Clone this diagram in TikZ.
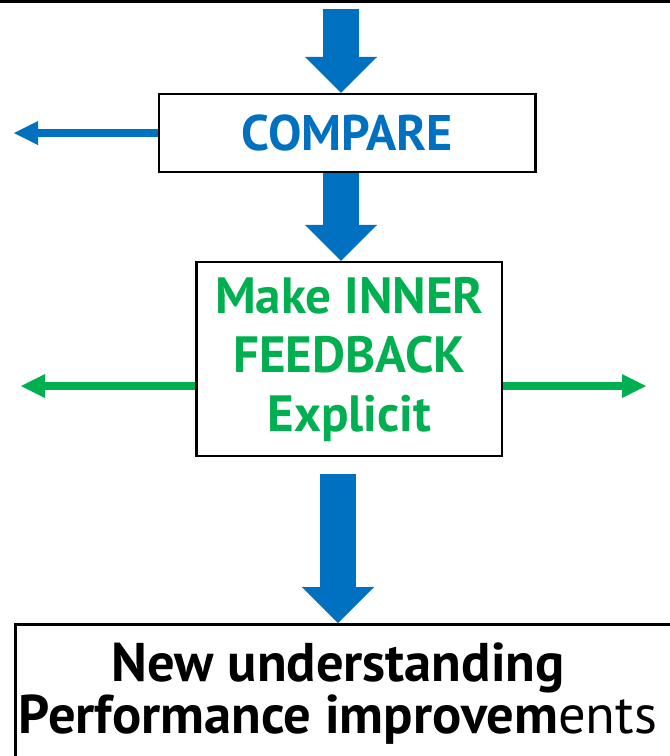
\documentclass[tikz,border=0pt]{standalone}
\usepackage{fontspec}
\newfontfamily\diagfont{PT Sans}
\usetikzlibrary{arrows.meta}
\definecolor{flowblue}{HTML}{0070C0}
\definecolor{flowgreen}{HTML}{00B050}
\tikzset{
  frame/.style={draw=black, line width=2.5pt, fill=white, inner sep=0pt, align=center},
  bigflow/.style={flowblue, line width=35.5pt,
    -{Triangle[width=72.5pt,length=36pt,line width=0pt]}},
  thinflow/.style={line width=8pt,
    -{Triangle[width=24pt,length=24pt,line width=0pt]}},
  comparefont/.style={font=\diagfont\bfseries\fontsize{50}{60}\selectfont},
  innerfont/.style={font=\diagfont\bfseries\fontsize{51}{59}\selectfont},
  resultfont/.style={font=\diagfont\bfseries\fontsize{54.5}{52}\selectfont},
}
\begin{document}
\begin{tikzpicture}[x=1pt,y=-1pt]
  \useasboundingbox (0,0) rectangle (670,756);
  \fill[white] (0,0) rectangle (670,756);
  % rule along the top edge
  \draw[line width=2.5pt] (0,1.25) -- (670,1.25);

  % boxes
  \node[frame, comparefont, text=flowblue, minimum width=376.5pt, minimum height=78pt]
    (compare) at (347.25,133) {COMPARE};
  \node[frame, innerfont, text=flowgreen, minimum width=305.5pt, minimum height=194pt]
    (inner) at (349.3,359) {Make INNER\\FEEDBACK\\Explicit};
  \node[frame, minimum width=700pt, minimum height=220pt, anchor=north west]
    (result) at (14,623) {};
  \node[resultfont, align=center, inner sep=0pt, anchor=north]
    (resulttext) at (338,643)
    {New understanding\\Performance improvem{\mdseries ents}};

  % free ends of the connectors
  \coordinate (feed) at (341,9);
  \coordinate (outcompare) at (14,133);
  \coordinate (outleft) at (21,386);
  \coordinate (outright) at (646,386);
  \coordinate (startresult) at (338,474);

  % main flow
  \draw[bigflow] (feed) -- (feed |- compare.north);
  \draw[bigflow] (compare.south -| feed) -- (inner.north -| feed);
  \draw[bigflow] (startresult) -- (startresult |- result.north);

  % side outputs
  \draw[thinflow, flowblue] (compare.west |- outcompare) -- (outcompare);
  \draw[thinflow, flowgreen] (inner.west |- outleft) -- (outleft);
  \draw[thinflow, flowgreen] (inner.east |- outright) -- (outright);
\end{tikzpicture}
\end{document}
